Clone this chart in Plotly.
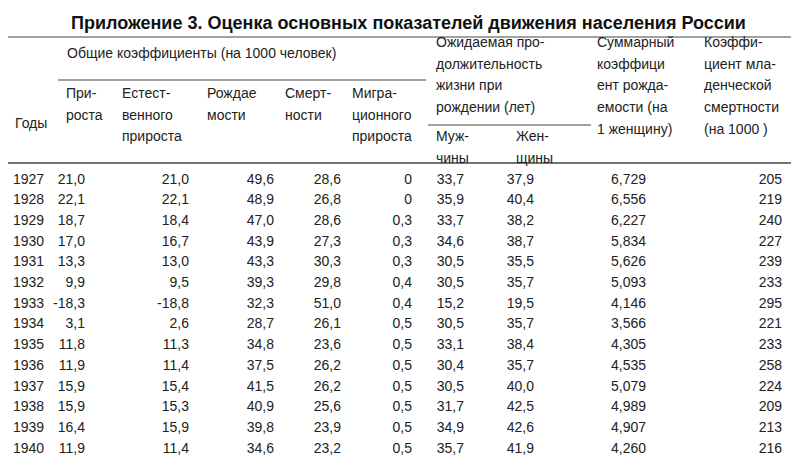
import plotly.graph_objects as go

years = [1927, 1928, 1929, 1930, 1931, 1932, 1933, 1934, 1935, 1936, 1937, 1938, 1939, 1940]
growth = ["21,0", "22,1", "18,7", "17,0", "13,3", "9,9", "-18,3", "3,1", "11,8", "11,9", "15,9", "15,9", "16,4", "11,9"]
natural = ["21,0", "22,1", "18,4", "16,7", "13,0", "9,5", "-18,8", "2,6", "11,3", "11,4", "15,4", "15,3", "15,9", "11,4"]
births = ["49,6", "48,9", "47,0", "43,9", "43,3", "39,3", "32,3", "28,7", "34,8", "37,5", "41,5", "40,9", "39,8", "34,6"]
deaths = ["28,6", "26,8", "28,6", "27,3", "30,3", "29,8", "51,0", "26,1", "23,6", "26,2", "26,2", "25,6", "23,9", "23,2"]
migration = ["0", "0", "0,3", "0,3", "0,3", "0,4", "0,4", "0,5", "0,5", "0,5", "0,5", "0,5", "0,5", "0,5"]
life_m = ["33,7", "35,9", "33,7", "34,6", "30,5", "30,5", "15,2", "30,5", "33,1", "30,4", "30,5", "31,7", "34,9", "35,7"]
life_f = ["37,9", "40,4", "38,2", "38,7", "35,5", "35,7", "19,5", "35,7", "38,4", "35,7", "40,0", "42,5", "42,6", "41,9"]
fertility = ["6,729", "6,556", "6,227", "5,834", "5,626", "5,093", "4,146", "3,566", "4,305", "4,535", "5,079", "4,989", "4,907", "4,260"]
infant = [205, 219, 240, 227, 239, 233, 295, 221, 233, 258, 224, 209, 213, 216]

font = dict(family="Liberation Sans, Arial", size=14, color="#222")
row_y = [172 + i * 20.7 for i in range(len(years))]

fig = go.Figure()

# year column left aligned, numbers right aligned at column edges
fig.add_trace(go.Scatter(x=[5] * len(years), y=row_y, text=[str(y) for y in years],
                         mode="text", textposition="middle right", textfont=font))
cols = [(77, growth), (181, natural), (266, births), (333, deaths), (404, migration),
        (456, life_m), (526, life_f), (638, fertility), (774, [str(v) for v in infant])]
for xr, vals in cols:
    fig.add_trace(go.Scatter(x=[xr] * len(vals), y=row_y, text=vals, mode="text",
                             textposition="middle left", textfont=font))

headers = [
    (5, 115, ["Годы"]),
    (57, 45, ["Общие коэффициенты (на 1000 человек)"]),
    (56, 85, ["При-", "роста"]),
    (112, 85, ["Естест-", "венного", "прироста"]),
    (197, 85, ["Рождае", "мости"]),
    (275, 85, ["Смерт-", "ности"]),
    (342, 85, ["Мигра-", "ционного", "прироста"]),
    (426, 34, ["Ожидаемая про-", "должительность", "жизни при", "рождении (лет)"]),
    (426, 128, ["Муж-", "чины"]),
    (506, 128, ["Жен-", "щины"]),
    (587, 34, ["Суммарный", "коэффици", "ент рожда-", "емости (на", "1 женщину)"]),
    (694, 34, ["Коэффи-", "циент мла-", "денческой", "смертности", "(на 1000 )"]),
]
for x, y, lines in headers:
    for i, t in enumerate(lines):
        fig.add_annotation(x=x, y=y + i * 21.7, text=t, showarrow=False, xanchor="left",
                           yanchor="middle", font=font)

fig.add_annotation(x=400, y=15, text="<b>Приложение 3. Оценка основных показателей движения населения России</b>",
                   showarrow=False, font=dict(family="Liberation Sans, Arial", size=18, color="#111"))

line = dict(color="#444", width=1.2)
fig.add_shape(type="line", x0=0, x1=799, y0=29, y1=29, line=line)
fig.add_shape(type="line", x0=50, x1=418, y0=72, y1=72, line=line)
fig.add_shape(type="line", x0=420, x1=583, y0=117, y1=117, line=line)
fig.add_shape(type="line", x0=0, x1=799, y0=155, y1=155, line=dict(color="#444", width=1.5))

fig.update_xaxes(range=[0, 799], visible=False)
fig.update_yaxes(range=[456, 0], visible=False)
fig.update_layout(width=799, height=456, margin=dict(l=0, r=0, t=0, b=0),
                  plot_bgcolor="white", paper_bgcolor="white", showlegend=False)
fig.write_html("out.html")
